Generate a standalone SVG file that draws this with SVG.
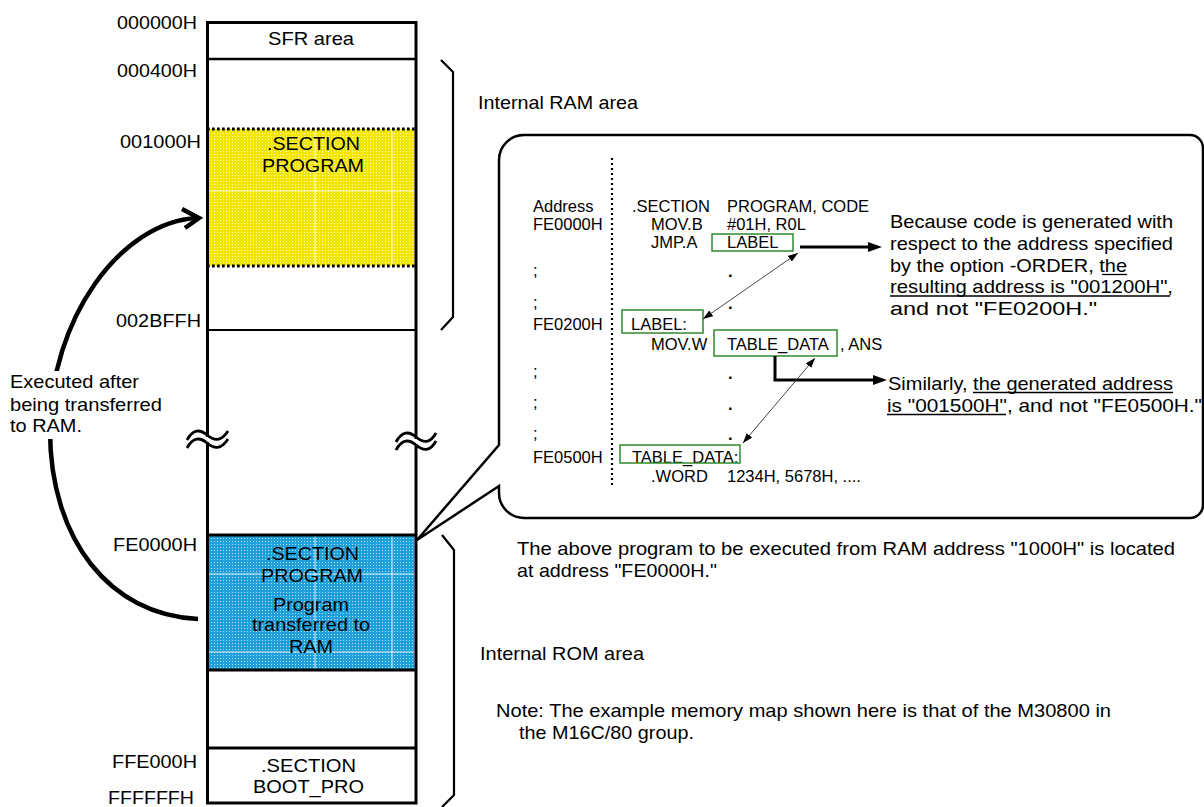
<svg xmlns="http://www.w3.org/2000/svg" width="1204" height="807" viewBox="0 0 1204 807">
<style>
text{font-family:"Liberation Sans",Arial,Helvetica,sans-serif;fill:#000}
.t{font-size:18.5px}
.c{font-size:16.5px}
.e{text-anchor:end}
.thick{stroke:#000;stroke-width:3;fill:none}
.med{stroke:#000;stroke-width:2.2;fill:none}
.green{fill:none;stroke:#2e8b2e;stroke-width:1.5}
.grid{stroke:#fff;stroke-width:1;opacity:0.85}
.ul{stroke:#000;stroke-width:1.3}
</style>
<defs>
<pattern id="py" width="3" height="3" patternUnits="userSpaceOnUse"><rect width="3" height="3" fill="#f2e500"/><rect x="1" y="1" width="1" height="1" fill="#fffbb8"/></pattern>
<pattern id="pb" width="3" height="3" patternUnits="userSpaceOnUse"><rect width="3" height="3" fill="#1f9fdc"/><rect x="1" y="1" width="1" height="1" fill="#b0e0f6"/></pattern>
<marker id="ah" viewBox="0 0 14 10" refX="6" refY="5" markerWidth="14" markerHeight="10" markerUnits="userSpaceOnUse" orient="auto"><path d="M0,0L14,5L0,10Z" fill="#000"/></marker>
<marker id="as" viewBox="0 0 10 7" refX="10" refY="3.5" markerWidth="10" markerHeight="7" markerUnits="userSpaceOnUse" orient="auto-start-reverse"><path d="M0,0L10,3.5L0,7Z" fill="#000"/></marker>
</defs>
<rect width="1204" height="807" fill="#fff"/>

<g id="memory-map">
<rect x="208.5" y="129" width="206" height="137" fill="url(#py)"/>
<line class="grid" x1="315" y1="129" x2="315" y2="266"/>
<line class="grid" x1="392" y1="129" x2="392" y2="266"/>
<line class="grid" x1="208" y1="191" x2="415" y2="191"/>
<rect x="208.5" y="535" width="206" height="135" fill="url(#pb)"/>
<line class="grid" x1="315" y1="535" x2="315" y2="670"/>
<line class="grid" x1="392" y1="535" x2="392" y2="670"/>
<line class="grid" x1="208" y1="574" x2="415" y2="574"/>
<line class="grid" x1="208" y1="652" x2="415" y2="652"/>
<rect x="207.5" y="22.5" width="208.5" height="780.5" class="thick"/>
<line x1="207" y1="59" x2="416" y2="59" stroke="#000" stroke-width="2.3"/>
<line x1="207" y1="129" x2="416" y2="129" stroke="#000" stroke-width="3" stroke-dasharray="2.7 2.3"/>
<line x1="207" y1="266" x2="416" y2="266" stroke="#000" stroke-width="3" stroke-dasharray="2.7 2.3"/>
<line x1="207" y1="330" x2="416" y2="330" stroke="#000" stroke-width="2"/>
<line x1="207" y1="535" x2="416" y2="535" class="thick"/>
<line x1="207" y1="670" x2="416" y2="670" class="thick"/>
<line x1="207" y1="748" x2="416" y2="748" class="thick"/>
<rect x="202" y="437" width="11" height="5" fill="#fff"/>
<path d="M187,440 C193,429 200,429 207,435 S221,442 228,431 M187,448 C193,437 200,437 207,443 S221,450 228,439" fill="none" stroke="#000" stroke-width="2.8"/>
<rect x="411" y="439" width="11" height="5" fill="#fff"/>
<path d="M396,442 C402,431 409,431 416,437 S430,444 436,433 M396,450 C402,439 409,439 416,445 S430,452 436,441" fill="none" stroke="#000" stroke-width="2.8"/>
<text class="t" x="268" y="45" textLength="86" lengthAdjust="spacingAndGlyphs">SFR area</text>
<text class="t" x="267" y="150" textLength="93" lengthAdjust="spacingAndGlyphs">.SECTION</text>
<text class="t" x="262" y="172" textLength="102" lengthAdjust="spacingAndGlyphs">PROGRAM</text>
<text class="t" x="266" y="560" textLength="93" lengthAdjust="spacingAndGlyphs">.SECTION</text>
<text class="t" x="261" y="582" textLength="102" lengthAdjust="spacingAndGlyphs">PROGRAM</text>
<text class="t" x="273" y="611" textLength="76" lengthAdjust="spacingAndGlyphs">Program</text>
<text class="t" x="252" y="631" textLength="118" lengthAdjust="spacingAndGlyphs">transferred to</text>
<text class="t" x="289" y="653" textLength="44" lengthAdjust="spacingAndGlyphs">RAM</text>
<text class="t" x="261" y="772" textLength="95" lengthAdjust="spacingAndGlyphs">.SECTION</text>
<text class="t" x="253" y="793" textLength="111" lengthAdjust="spacingAndGlyphs">BOOT_PRO</text>
</g>

<g id="addresses">
<text class="t e" x="197" y="29" textLength="80" lengthAdjust="spacingAndGlyphs">000000H</text>
<text class="t e" x="197" y="77" textLength="80" lengthAdjust="spacingAndGlyphs">000400H</text>
<text class="t e" x="201" y="148" textLength="81" lengthAdjust="spacingAndGlyphs">001000H</text>
<text class="t e" x="201" y="327" textLength="85" lengthAdjust="spacingAndGlyphs">002BFFH</text>
<text class="t e" x="197" y="551" textLength="84" lengthAdjust="spacingAndGlyphs">FE0000H</text>
<text class="t e" x="197" y="768" textLength="85" lengthAdjust="spacingAndGlyphs">FFE000H</text>
<text class="t e" x="194" y="804" textLength="86" lengthAdjust="spacingAndGlyphs">FFFFFFH</text>
</g>

<g id="brackets">
<path class="med" d="M441,60 L453,72 L453,317 L441,330"/>
<path class="med" d="M442,535 L454,550 L454,795 L442,807"/>
<text class="t" x="478" y="109" textLength="160" lengthAdjust="spacingAndGlyphs">Internal RAM area</text>
<text class="t" x="480" y="660" textLength="164" lengthAdjust="spacingAndGlyphs">Internal ROM area</text>
</g>

<g id="transfer-arrow">
<path d="M198,619 C110,615 50,540 50,430 C50,320 120,222 197,218" fill="none" stroke="#000" stroke-width="4.5"/>
<path d="M182,209 L199,218 L185,228" fill="none" stroke="#000" stroke-width="4.5"/>
<rect x="35" y="371" width="40" height="68" fill="#fff"/>
<text class="t" x="10" y="388" textLength="129" lengthAdjust="spacingAndGlyphs">Executed after</text>
<text class="t" x="10" y="411" textLength="152" lengthAdjust="spacingAndGlyphs">being transferred</text>
<text class="t" x="10" y="432" textLength="72" lengthAdjust="spacingAndGlyphs">to RAM.</text>
</g>

<g id="callout">
<path d="M499,445 L417,540 L499,486 L499,493 A25,25 0 0 0 524,518 L1190,518 A13,13 0 0 0 1203,505 L1203,148 A13,13 0 0 0 1190,135 L524,135 A25,25 0 0 0 499,160 Z" fill="#fff" stroke="#000" stroke-width="2.5" stroke-linejoin="miter"/>
<line x1="612" y1="158" x2="612" y2="488" stroke="#000" stroke-width="2.2" stroke-dasharray="2 3"/>
<g class="code">
<text class="c" x="533" y="212">Address</text>
<text class="c" x="533" y="230">FE0000H</text>
<text class="c" x="632" y="212">.SECTION</text>
<text class="c" x="727" y="212">PROGRAM, CODE</text>
<text class="c" x="651" y="230">MOV.B</text>
<text class="c" x="727" y="230">#01H, R0L</text>
<text class="c" x="651" y="248">JMP.A</text>
<text class="c" x="727" y="248">LABEL</text>
<text class="c" x="533" y="276">;</text>
<text class="c" x="728" y="277" font-weight="bold">.</text>
<text class="c" x="533" y="308">;</text>
<text class="c" x="728" y="309" font-weight="bold">.</text>
<text class="c" x="533" y="330">FE0200H</text>
<text class="c" x="631" y="330">LABEL:</text>
<text class="c" x="651" y="350">MOV.W</text>
<text class="c" x="727" y="350">TABLE_DATA</text>
<text class="c" x="840" y="350">, ANS</text>
<text class="c" x="533" y="377">;</text>
<text class="c" x="728" y="379" font-weight="bold">.</text>
<text class="c" x="533" y="408">;</text>
<text class="c" x="728" y="410" font-weight="bold">.</text>
<text class="c" x="533" y="439">;</text>
<text class="c" x="728" y="440" font-weight="bold">.</text>
<text class="c" x="533" y="463">FE0500H</text>
<text class="c" x="632" y="463">TABLE_DATA:</text>
<text class="c" x="651" y="482">.WORD</text>
<text class="c" x="727" y="482">1234H, 5678H, ....</text>
</g>
<rect class="green" x="712" y="234" width="81" height="17"/>
<rect class="green" x="622" y="310" width="81" height="23"/>
<rect class="green" x="714" y="330" width="123" height="26"/>
<rect class="green" x="620" y="445" width="120" height="18"/>
<text class="t" x="890" y="228" textLength="283" lengthAdjust="spacingAndGlyphs">Because code is generated with</text>
<text class="t" x="890" y="250" textLength="283" lengthAdjust="spacingAndGlyphs">respect to the address specified</text>
<text class="t" x="890" y="272" textLength="237" lengthAdjust="spacingAndGlyphs">by the option -ORDER, the</text>
<text class="t" x="890" y="293" textLength="283" lengthAdjust="spacingAndGlyphs">resulting address is "001200H",</text>
<text class="t" x="890" y="315" textLength="207" lengthAdjust="spacingAndGlyphs">and not "FE0200H."</text>
<line class="ul" x1="1102" y1="274.5" x2="1127" y2="274.5"/>
<line class="ul" x1="890" y1="296" x2="1170" y2="296"/>
<text class="t" x="888" y="390" textLength="285" lengthAdjust="spacingAndGlyphs">Similarly, the generated address</text>
<text class="t" x="887" y="412" textLength="315" lengthAdjust="spacingAndGlyphs">is "001500H", and not "FE0500H."</text>
<line class="ul" x1="973" y1="392.5" x2="1173" y2="392.5"/>
<line class="ul" x1="887" y1="414.5" x2="1006" y2="414.5"/>
</g>

<g id="connectors">
<line x1="800" y1="247" x2="874" y2="247" stroke="#000" stroke-width="3" marker-end="url(#ah)"/>
<polyline points="775,356 775,380 879,380" fill="none" stroke="#000" stroke-width="3" marker-end="url(#ah)"/>
<line x1="798" y1="253" x2="703" y2="319" stroke="#333" stroke-width="0.9" marker-start="url(#as)" marker-end="url(#as)"/>
<line x1="815" y1="358" x2="743" y2="443" stroke="#333" stroke-width="0.9" marker-start="url(#as)" marker-end="url(#as)"/>
</g>

<g id="notes">
<text class="t" x="517" y="555" textLength="658" lengthAdjust="spacingAndGlyphs">The above program to be executed from RAM address "1000H" is located</text>
<text class="t" x="517" y="577" textLength="200" lengthAdjust="spacingAndGlyphs">at address "FE0000H."</text>
<text class="t" x="496" y="717" textLength="615" lengthAdjust="spacingAndGlyphs">Note: The example memory map shown here is that of the M30800 in</text>
<text class="t" x="519" y="739" textLength="175" lengthAdjust="spacingAndGlyphs">the M16C/80 group.</text>
</g>
</svg>
